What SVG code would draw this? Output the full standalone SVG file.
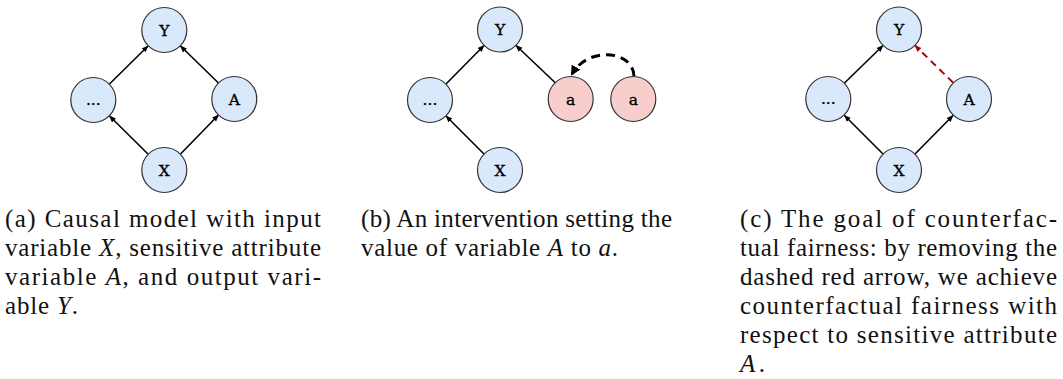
<svg xmlns="http://www.w3.org/2000/svg" width="1063" height="379" viewBox="0 0 1063 379">
<style>
.node circle{stroke:#333;stroke-width:1.2}
.blue circle{fill:#dae8fc}
.red circle{fill:#f8cecc}
.edge{stroke:#000;stroke-width:1.6;fill:none;marker-end:url(#arr)}
</style>
<defs>
<marker id="arr" viewBox="0 0 10 10" refX="9" refY="5" markerWidth="7" markerHeight="7" markerUnits="userSpaceOnUse" orient="auto">
<path d="M0,1 L10,5 L0,9 Z" fill="#000"/>
</marker>
<marker id="arrRed" viewBox="0 0 10 10" refX="9" refY="5" markerWidth="7" markerHeight="7" markerUnits="userSpaceOnUse" orient="auto">
<path d="M0,1 L10,5 L0,9 Z" fill="#b20000"/>
</marker>
<marker id="arrBig" viewBox="0 0 10 10" refX="8" refY="5" markerWidth="10" markerHeight="10" markerUnits="userSpaceOnUse" orient="auto">
<path d="M0,0 L10,5 L0,10 Z" fill="#000"/>
</marker>
</defs>

<g id="connectors">
<line class="edge" x1="109.5" y1="84" x2="148" y2="46"/>
<line class="edge" x1="218.5" y1="83" x2="180.5" y2="46"/>
<line class="edge" x1="148" y1="154" x2="109.5" y2="116"/>
<line class="edge" x1="180.5" y1="154" x2="218.5" y2="115"/>
<line class="edge" x1="446" y1="84" x2="484" y2="45.5"/>
<line class="edge" x1="555" y1="82.5" x2="516" y2="45.5"/>
<line class="edge" x1="484" y1="154" x2="446" y2="116"/>
<path d="M634,76 C633,50 588,46 572,74" fill="none" stroke="#000" stroke-width="3" stroke-dasharray="9,6" marker-end="url(#arrBig)"/>
<line class="edge" x1="844.5" y1="83" x2="883" y2="45.5"/>
<line x1="953" y1="82.5" x2="915" y2="45.5" stroke="#b20000" stroke-width="2" stroke-dasharray="7,5" fill="none" marker-end="url(#arrRed)"/>
<line class="edge" x1="883" y1="154" x2="844.5" y2="115.5"/>
<line class="edge" x1="915" y1="154" x2="953" y2="115.5"/>
</g>

<g font-family="DejaVu Serif, serif" font-size="15.5" text-anchor="middle" fill="#000" stroke="#000" stroke-width="0.35">
<g id="a-Y" class="node blue"><circle cx="164.3" cy="30" r="22.5"/><text x="164.3" y="35.5">Y</text></g>
<g id="a-dots" class="node blue"><circle cx="93.3" cy="100" r="22.5"/><text x="93.3" y="105">...</text></g>
<g id="a-A" class="node blue"><circle cx="234.3" cy="99" r="22.5"/><text x="234.3" y="104.5">A</text></g>
<g id="a-X" class="node blue"><circle cx="164.3" cy="170" r="22.5"/><text x="164.3" y="175.5">X</text></g>

<g id="b-Y" class="node blue"><circle cx="500" cy="29.5" r="22.5"/><text x="500" y="35">Y</text></g>
<g id="b-dots" class="node blue"><circle cx="430" cy="100" r="22.5"/><text x="430" y="105">...</text></g>
<g id="b-a1" class="node red"><circle cx="570.7" cy="99" r="22.5"/><text x="570.7" y="104.5">a</text></g>
<g id="b-a2" class="node red"><circle cx="633.3" cy="99" r="22.5"/><text x="633.3" y="104.5">a</text></g>
<g id="b-X" class="node blue"><circle cx="500" cy="170" r="22.5"/><text x="500" y="175.5">X</text></g>

<g id="c-Y" class="node blue"><circle cx="899" cy="29.5" r="22.5"/><text x="899" y="35">Y</text></g>
<g id="c-dots" class="node blue"><circle cx="828.3" cy="99" r="22.5"/><text x="828.3" y="104">...</text></g>
<g id="c-A" class="node blue"><circle cx="969" cy="99" r="22.5"/><text x="969" y="104.5">A</text></g>
<g id="c-X" class="node blue"><circle cx="899" cy="170" r="22.5"/><text x="899" y="175.5">X</text></g>
</g>

<g font-family="Liberation Serif" font-size="25" fill="#111">
<g id="caption-a">
<text x="5" y="227" textLength="316" lengthAdjust="spacing">(a) Causal model with input</text>
<text x="5" y="256" textLength="316" lengthAdjust="spacing">variable <tspan font-style="italic">X</tspan>, sensitive attribute</text>
<text x="5" y="285" textLength="316" lengthAdjust="spacing">variable <tspan font-style="italic">A</tspan>, and output vari-</text>
<text x="5" y="314" textLength="73" lengthAdjust="spacing">able <tspan font-style="italic">Y</tspan>.</text>
</g>
<g id="caption-b">
<text x="361" y="227" textLength="311" lengthAdjust="spacing">(b) An intervention setting the</text>
<text x="361" y="256" textLength="257" lengthAdjust="spacing">value of variable <tspan font-style="italic">A</tspan> to <tspan font-style="italic">a</tspan>.</text>
</g>
<g id="caption-c">
<text x="740" y="227" textLength="317" lengthAdjust="spacing">(c) The goal of counterfac-</text>
<text x="740" y="256" textLength="317" lengthAdjust="spacing">tual fairness: by removing the</text>
<text x="740" y="285" textLength="317" lengthAdjust="spacing">dashed red arrow, we achieve</text>
<text x="740" y="314" textLength="317" lengthAdjust="spacing">counterfactual fairness with</text>
<text x="740" y="343" textLength="317" lengthAdjust="spacing">respect to sensitive attribute</text>
<text x="740" y="372" textLength="25" lengthAdjust="spacing"><tspan font-style="italic">A</tspan>.</text>
</g>
</g>
</svg>
